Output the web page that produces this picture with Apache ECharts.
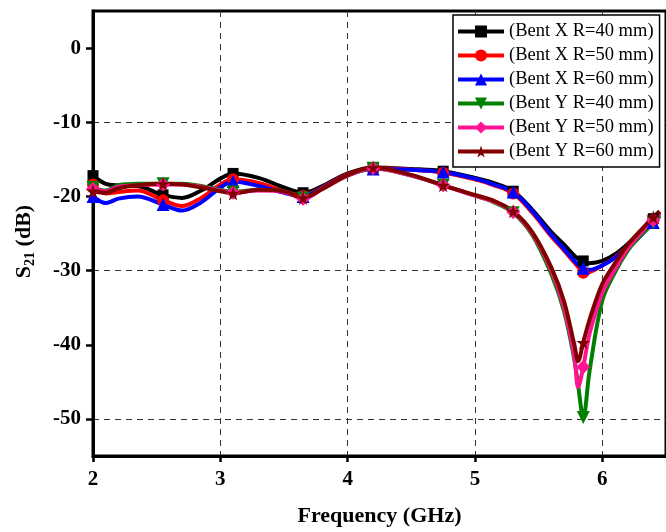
<!DOCTYPE html>
<html>
<head>
<meta charset="utf-8">
<script src="https://cdn.jsdelivr.net/npm/echarts@6/dist/echarts.min.js"></script>
<style>
  html, body { margin: 0; padding: 0; background: #fff; }
  #chart { width: 666px; height: 532px; }
</style>
</head>
<body>
<div id="chart"></div>
<script>
// Frequency samples (GHz) shared by all curves
const freq = [2.0, 2.1, 2.2, 2.35, 2.55, 2.7, 2.85, 3.0, 3.1, 3.3, 3.5, 3.65, 3.8, 4.0, 4.2, 4.5, 4.75, 5.0, 5.15, 5.3, 5.45, 5.6, 5.7, 5.78, 5.81, 5.85, 5.9, 6.0, 6.1, 6.2, 6.3, 6.4, 6.45];
// Frequencies where a marker is drawn
const markerFreq = [2.0, 2.55, 3.1, 3.65, 4.2, 4.75, 5.3, 5.85, 6.4];

// S21 (dB) for each bending case
const bentX40 = [-17.2, -18.3, -18.5, -18.6, -19.8, -20.2, -19.2, -17.6, -16.9, -17.5, -18.8, -19.5, -18.6, -16.9, -16.1, -16.3, -16.6, -17.5, -18.2, -19.3, -21.8, -24.8, -26.5, -28.0, -28.4, -28.7, -29.0, -28.7, -27.8, -26.4, -24.8, -23.0, -22.1];
const bentX50 = [-18.4, -19.6, -19.4, -19.2, -20.5, -21.3, -20.2, -18.4, -17.7, -18.2, -19.3, -19.9, -18.8, -17.0, -16.2, -16.4, -16.8, -17.7, -18.5, -19.6, -22.2, -25.4, -27.3, -28.9, -29.5, -30.3, -30.2, -29.3, -28.2, -26.7, -25.0, -23.2, -22.3];
const bentX60 = [-20.0, -20.9, -20.3, -20.0, -21.1, -21.9, -20.8, -18.8, -18.0, -18.6, -19.5, -20.0, -18.9, -17.1, -16.3, -16.4, -16.7, -17.6, -18.4, -19.4, -22.0, -25.2, -27.1, -28.7, -29.2, -29.7, -29.9, -29.3, -28.3, -26.9, -25.3, -23.5, -22.6];
const bentY40 = [-18.8, -19.2, -18.5, -18.3, -18.3, -18.3, -18.6, -19.1, -19.4, -19.1, -19.3, -20.2, -19.0, -17.2, -16.2, -17.2, -18.5, -19.9, -20.8, -22.2, -25.2, -30.5, -35.5, -42.0, -45.5, -49.8, -43.5, -34.0, -30.2, -27.3, -25.3, -23.6, -22.7];
const bentY50 = [-19.0, -19.3, -18.7, -18.5, -18.4, -18.4, -18.7, -19.2, -19.5, -19.2, -19.4, -20.3, -19.0, -17.2, -16.2, -17.2, -18.5, -19.9, -20.7, -22.1, -25.0, -30.0, -35.0, -41.5, -45.7, -43.0, -38.5, -33.0, -29.8, -27.0, -25.0, -23.2, -22.4];
const bentY60 = [-19.3, -19.5, -18.9, -18.5, -18.3, -18.4, -18.8, -19.3, -19.6, -19.1, -19.3, -20.2, -19.0, -17.1, -16.1, -17.1, -18.5, -19.8, -20.6, -22.0, -24.8, -29.6, -34.2, -40.0, -42.2, -39.7, -36.6, -31.8, -29.0, -26.5, -24.6, -22.8, -22.0];

const seriesNames = ['(Bent X R=40 mm)', '(Bent X R=50 mm)', '(Bent X R=60 mm)', '(Bent Y R=40 mm)', '(Bent Y R=50 mm)', '(Bent Y R=60 mm)'];
const seriesValues = [bentX40, bentX50, bentX60, bentY40, bentY50, bentY60];

const yTicks = [0, -10, -20, -30, -40, -50];
const xTicks = [2, 3, 4, 5, 6];

const STAR = 'path://M50,0 L61,35 L98,35 L68,57 L79,91 L50,70 L21,91 L32,57 L2,35 L39,35 Z';
const styles = [
  { color: '#000000', symbol: 'rect', size: 11, rotate: 0 },
  { color: '#ff0000', symbol: 'circle', size: 12, rotate: 0 },
  { color: '#0000ff', symbol: 'triangle', size: 13, rotate: 0 },
  { color: '#008000', symbol: 'triangle', size: 13, rotate: 180 },
  { color: '#ff1493', symbol: 'diamond', size: 14, rotate: 0 },
  { color: '#800000', symbol: STAR, size: 14, rotate: 0 }
];

function buildData(values) {
  return freq.map((f, i) => markerFreq.indexOf(f) >= 0
    ? [f, values[i]]
    : { value: [f, values[i]], symbol: 'none' });
}

const FONT = 'Liberation Serif';

const series = seriesValues.map((vals, k) => ({
  name: seriesNames[k],
  type: 'line',
  smooth: 0.35,
  data: buildData(vals),
  symbol: styles[k].symbol,
  symbolSize: styles[k].size,
  symbolRotate: styles[k].rotate,
  showAllSymbol: true,
  lineStyle: { color: styles[k].color, width: 4 },
  itemStyle: { color: styles[k].color, borderWidth: 0 },
  emphasis: { disabled: true },
  animation: false
}));

const chart = echarts.init(document.getElementById('chart'), null, { renderer: 'canvas' });
chart.setOption({
  backgroundColor: '#ffffff',
  animation: false,
  grid: {
    left: 93, top: 11, right: -8, bottom: 75,
    show: true, borderColor: '#000', borderWidth: 3, backgroundColor: 'transparent'
  },
  legend: {
    orient: 'vertical',
    left: 453, top: 15,
    backgroundColor: '#fff',
    borderColor: '#000', borderWidth: 1.5, borderRadius: 0,
    padding: [7, 6, 6, 3],
    itemWidth: 46, itemHeight: 15, itemGap: 5,
    lineStyle: { width: 4 },
    textStyle: { fontFamily: FONT, fontSize: 18.5, color: '#000', lineHeight: 18.5 },
    data: seriesNames
  },
  xAxis: {
    type: 'value',
    min: 2, max: 6.5, interval: 1,
    name: 'Frequency (GHz)',
    nameLocation: 'middle',
    nameGap: 49,
    nameTextStyle: { fontFamily: FONT, fontWeight: 'bold', fontSize: 22, color: '#000' },
    axisLine: { show: true, onZero: false, lineStyle: { color: '#000', width: 3 } },
    axisTick: { show: true, customValues: xTicks, length: 6, lineStyle: { color: '#000', width: 2.5 } },
    axisLabel: { customValues: xTicks, margin: 13, fontFamily: FONT, fontWeight: 'bold', fontSize: 21, color: '#000' },
    splitLine: { show: true, lineStyle: { color: '#333', width: 1, type: [6, 5] } }
  },
  yAxis: {
    type: 'value',
    min: -55, max: 5, interval: 5,
    name: '{s|S}{sub|21}{s| (dB)}',
    nameLocation: 'middle',
    nameRotate: 90,
    nameGap: 56,
    nameTextStyle: {
      fontFamily: FONT, fontWeight: 'bold', color: '#000',
      padding: [0, 16, 0, 0],
      rich: {
        s: { fontFamily: FONT, fontWeight: 'bold', fontSize: 22, color: '#000', verticalAlign: 'middle', lineHeight: 26 },
        sub: { fontFamily: FONT, fontWeight: 'bold', fontSize: 14, color: '#000', verticalAlign: 'bottom', lineHeight: 26, padding: [10, 0, 0, 0] }
      }
    },
    axisLine: { show: true, onZero: false, lineStyle: { color: '#000', width: 3 } },
    axisTick: { show: true, customValues: yTicks, length: 7, lineStyle: { color: '#000', width: 2.5 } },
    axisLabel: { customValues: yTicks, margin: 12, fontFamily: FONT, fontWeight: 'bold', fontSize: 21, color: '#000' },
    splitLine: {
      show: true,
      lineStyle: {
        color: ['transparent', '#333', 'transparent', '#333', 'transparent', '#333', 'transparent', '#333', 'transparent', '#333', 'transparent', '#333', 'transparent'],
        width: 1, type: [6, 5]
      }
    }
  },
  series: series
});
</script>
</body>
</html>
